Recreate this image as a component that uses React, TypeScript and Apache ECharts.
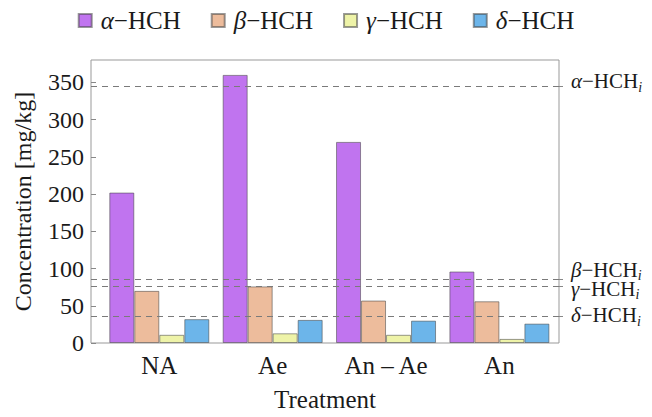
import React, { useEffect, useRef } from "react";
import * as echarts from "echarts";

const categories = ["NA", "Ae", "An – Ae", "An"];
const greek = ["α", "β", "γ", "δ"];
const seriesNames = ["α−HCH", "β−HCH", "γ−HCH", "δ−HCH"];
const alphaHCH = [202, 360, 270, 96];
const betaHCH = [70, 76, 57, 56];
const gammaHCH = [11, 13, 11, 5.5];
const deltaHCH = [32, 31, 30, 26];
const initialLevels = [345, 85.7, 76.5, 35.4];
const yTicks = [0, 50, 100, 150, 200, 250, 300, 350];
const colors = ["#C074EF", "#EDBC9C", "#EEF3A8", "#6CB5EA"];

const FONT = "Liberation Serif";
const TXT = "#1a1a1a";
const FS = 25;
const FS_REF = 21;
// vertical label shifts (px) for the initial-level labels, to avoid overlap
const labelShift = [-5, -9.5, 2.5, -1.5];

function pad(d: number): number[] {
  return d >= 0 ? [2 * d, 0, 0, 0] : [0, 0, -2 * d, 0];
}

export default function App() {
  const ref = useRef<HTMLDivElement>(null);
  useEffect(() => {
    if (!ref.current) return;
    const chart = echarts.init(ref.current, undefined, { renderer: "svg" });
    const data = [alphaHCH, betaHCH, gammaHCH, deltaHCH];

    const rich: Record<string, any> = {};
    initialLevels.forEach((_, i) => {
      const d = labelShift[i];
      rich["g" + i] = { fontFamily: FONT, fontSize: FS_REF, fontStyle: "italic", color: TXT, padding: pad(d) };
      rich["m" + i] = { fontFamily: FONT, fontSize: FS_REF, color: TXT, padding: pad(d) };
      rich["s" + i] = { fontFamily: FONT, fontSize: 14, fontStyle: "italic", color: TXT, padding: pad(d + 6) };
    });

    const series: any[] = data.map((vals, k) => ({
      name: seriesNames[k],
      type: "bar",
      barWidth: 25,
      barGap: "0%",
      data: vals.map((v, i) => [i, v]),
      itemStyle: { color: colors[k], borderColor: "rgba(70,70,70,0.55)", borderWidth: 1 },
      emphasis: { disabled: true },
    }));
    series[0].markLine = {
      silent: true,
      symbol: ["none", "none"],
      lineStyle: { type: [6, 5], color: "#7a7a7a", width: 1 },
      label: { position: "end", distance: 12, rich },
      data: initialLevels.map((v, i) => ({
        yAxis: v,
        label: { formatter: `{g${i}|${greek[i]}}{m${i}|−HCH}{s${i}|i}` },
      })),
    };

    chart.setOption({
      animation: false,
      textStyle: { fontFamily: FONT },
      legend: {
        top: 3,
        left: "center",
        icon: "rect",
        itemWidth: 13,
        itemHeight: 13,
        itemGap: 30,
        data: seriesNames,
        formatter: (name: string) => {
          const i = seriesNames.indexOf(name);
          return `{g|${greek[i]}}{m|−HCH}`;
        },
        textStyle: {
          rich: {
            g: { fontFamily: FONT, fontSize: FS, fontStyle: "italic", color: TXT, padding: [0, 0, 0, 4] },
            m: { fontFamily: FONT, fontSize: FS, color: TXT },
          },
        },
      },
      grid: {
        left: 91,
        right: 93,
        top: 60,
        bottom: 68,
        containLabel: false,
        show: true,
        borderColor: "#999",
        borderWidth: 1,
      },
      xAxis: {
        type: "value",
        min: -0.6025,
        max: 3.5257,
        name: "Treatment",
        nameLocation: "middle",
        nameGap: 44,
        nameTextStyle: { fontFamily: FONT, fontSize: FS, color: TXT },
        axisLine: { show: false, onZero: false },
        axisTick: { show: false },
        splitLine: { show: false },
        axisLabel: {
          customValues: [0, 1, 2, 3],
          formatter: (v: number) => categories[Math.round(v)] ?? "",
          fontFamily: FONT,
          fontSize: FS,
          color: TXT,
          margin: 10,
        },
      },
      yAxis: [
        {
          type: "value",
          position: "left",
          min: 0,
          max: 380,
          name: "Concentration [mg/kg]",
          nameLocation: "middle",
          nameGap: 56,
          nameTextStyle: { fontFamily: FONT, fontSize: FS - 1, color: TXT },
          axisLine: { show: false, onZero: false },
          splitLine: { show: false },
          axisTick: { show: true, inside: true, length: 5, customValues: yTicks, lineStyle: { color: "#888" } },
          axisLabel: { customValues: yTicks, fontFamily: FONT, fontSize: FS - 1, color: TXT, margin: 7 },
        },
        {
          type: "value",
          position: "right",
          min: 0,
          max: 380,
          axisLine: { show: false, onZero: false },
          splitLine: { show: false },
          axisTick: { show: true, inside: false, length: 4, customValues: initialLevels, lineStyle: { color: "#888" } },
          axisLabel: { show: false },
        },
      ],
      series,
    });
    return () => chart.dispose();
  }, []);
  return <div ref={ref} style={{ width: 652, height: 417, position: "absolute", left: 0, top: 0 }} />;
}
